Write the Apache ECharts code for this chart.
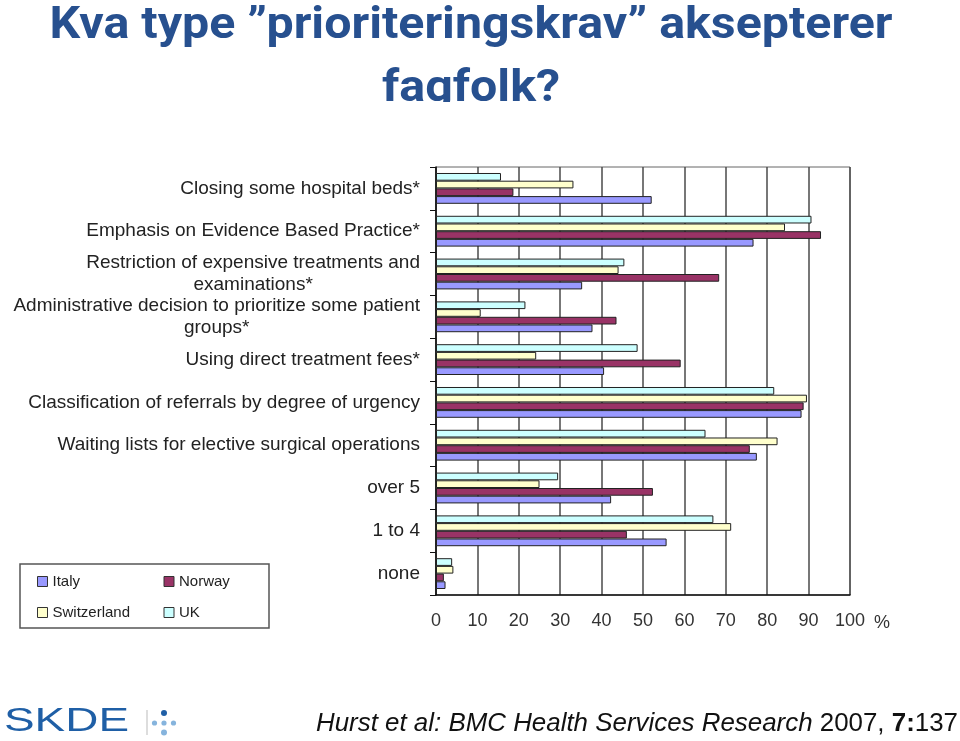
<!DOCTYPE html>
<html>
<head>
<meta charset="utf-8">
<style>html,body{margin:0;padding:0;background:#fff;}#c{width:960px;height:741px;}</style>
<script src="https://cdn.jsdelivr.net/npm/echarts@6/dist/echarts.min.js"></script>
</head>
<body>
<div id="c"></div>
<script>
// Categories, bottom to top
const categories = [
  'none',
  '1 to 4',
  'over 5',
  'Waiting lists for elective surgical operations',
  'Classification of referrals by degree of urgency',
  'Using direct treatment fees*',
  'Administrative decision to prioritize some patient\ngroups*',
  'Restriction of expensive treatments and\nexaminations*',
  'Emphasis on Evidence Based Practice*',
  'Closing some hospital beds*'
];
const seriesNames = ['Italy', 'Norway', 'Switzerland', 'UK'];
const italy       = [2.3, 55.7, 42.3, 77.5, 88.3, 40.6, 37.8, 35.3, 76.7, 52.1];
const norway      = [1.9, 46.1, 52.4, 75.8, 88.8, 59.1, 43.6, 68.4, 93.0, 18.7];
const switzerland = [4.2, 71.3, 25.0, 82.5, 89.6, 24.2, 10.8, 44.1, 84.3, 33.2];
const uk          = [3.9, 67.0, 29.5, 65.1, 81.7, 48.7, 21.6, 45.5, 90.7, 15.7];
const xTicks = [0, 10, 20, 30, 40, 50, 60, 70, 80, 90, 100];

const titleText = 'Kva type \u201Dprioriteringskrav\u201D aksepterer\nfagfolk?';
const citeParts = ['Hurst et al: BMC Health Services Research', ' 2007, ', '7:', '137'];

const colors = ['#9999FF', '#993366', '#FFFFCC', '#CCFFFF'];
const values = [italy, norway, switzerland, uk];

const ctx = document.createElement('canvas').getContext('2d');
function tw(font, s) { ctx.font = font; return ctx.measureText(s).width; }

const FF = '"Liberation Sans", Arial, sans-serif';
const titleFont = 'bold 44px Roboto, "Liberation Sans", sans-serif';
const titleScale = 843 / tw(titleFont, titleText.split('\n')[0]);
const logoFont = '34px ' + FF;
const logoScale = 125 / tw(logoFont, 'SKDE');
const citeW = tw('italic 26px ' + FF, citeParts[0]) + tw('26px ' + FF, citeParts[1]) +
              tw('bold 26px ' + FF, citeParts[2]) + tw('26px ' + FF, citeParts[3]);
const citeScale = 642 / citeW;

const chart = echarts.init(document.getElementById('c'), null, {renderer: 'canvas'});

// drawing order: UK on top of each group, Italy at the bottom
const drawOrder = [3, 2, 1, 0];

const option = {
  backgroundColor: '#fff',
  animation: false,
  textStyle: {fontFamily: FF},
  grid: {left: 436, right: 110, top: 167, bottom: 146, show: true, borderColor: '#666', borderWidth: 1, backgroundColor: 'transparent'},
  legend: {
    data: seriesNames,
    left: 37, top: 566, width: 262,
    orient: 'horizontal',
    padding: 0, itemGap: 0,
    itemWidth: 10, itemHeight: 10,
    icon: 'rect',
    itemStyle: {borderColor: '#333', borderWidth: 1},
    textStyle: {fontSize: 15, color: '#222', width: 111, lineHeight: 31, fontFamily: FF}
  },
  xAxis: {
    type: 'value', min: 0, max: 100, interval: 10,
    axisLine: {show: true, lineStyle: {color: '#111', width: 1.5}},
    axisTick: {show: false},
    splitLine: {show: true, lineStyle: {color: '#4a4a4a', width: 1.5}},
    axisLabel: {
      margin: 17, fontSize: 18, color: '#333', fontFamily: FF,
      formatter: function (v) { return xTicks.indexOf(v) >= 0 ? String(v) : ''; }
    },
    name: '%', nameLocation: 'end', nameGap: 24,
    nameTextStyle: {fontSize: 18, color: '#333', verticalAlign: 'top', padding: [19, 0, 0, 0], fontFamily: FF}
  },
  yAxis: {
    type: 'category', data: categories,
    axisLine: {show: true, lineStyle: {color: '#111', width: 1.5}},
    axisTick: {show: true, length: 6, lineStyle: {color: '#111', width: 1}},
    splitLine: {show: false},
    axisLabel: {
      margin: 16, color: '#222', fontSize: 19, lineHeight: 22, fontFamily: FF,
      formatter: function (v) { return v.split('\n').map(function (l) { return '{c|' + l + '}'; }).join('\n'); },
      rich: {c: {align: 'center', fontSize: 19, lineHeight: 22, color: '#222', fontFamily: FF}}
    }
  },
  series: drawOrder.map(function (i) {
    return {
      name: seriesNames[i], type: 'bar', data: values[i],
      barGap: '0%', barCategoryGap: '28%',
      itemStyle: {color: colors[i], borderColor: '#222', borderWidth: 1}
    };
  }),
  graphic: [
    {type: 'text', x: 471, y: -5, scaleX: titleScale, z: 10,
     style: {text: titleText, font: titleFont, fill: '#27508F', textAlign: 'center', textVerticalAlign: 'top', lineHeight: 63}},
    {type: 'rect', shape: {x: 0, y: 102, width: 960, height: 60}, z: 11, style: {fill: '#fff'}},
    {type: 'rect', shape: {x: 20, y: 564, width: 249, height: 64}, z: 5, style: {fill: 'none', stroke: '#555', lineWidth: 1.5}},
    {type: 'text', x: 4, y: 722, scaleX: logoScale, z: 10,
     style: {text: 'SKDE', font: logoFont, fill: '#1F5FA6', textAlign: 'left', textVerticalAlign: 'middle'}},
    {type: 'line', shape: {x1: 147, y1: 710, x2: 147, y2: 735}, z: 10, style: {stroke: '#bbb', lineWidth: 1}},
    {type: 'circle', shape: {cx: 164, cy: 713, r: 3}, z: 10, style: {fill: '#1F5FA6'}},
    {type: 'circle', shape: {cx: 154.5, cy: 723, r: 2.6}, z: 10, style: {fill: '#86B4DD'}},
    {type: 'circle', shape: {cx: 164, cy: 723, r: 2.6}, z: 10, style: {fill: '#86B4DD'}},
    {type: 'circle', shape: {cx: 173.5, cy: 723, r: 2.6}, z: 10, style: {fill: '#86B4DD'}},
    {type: 'circle', shape: {cx: 164, cy: 732.5, r: 3}, z: 10, style: {fill: '#86B4DD'}},
    {type: 'text', x: 958, y: 724, scaleX: citeScale, z: 10,
     style: {
       text: '{i|' + citeParts[0] + '}{r|' + citeParts[1] + '}{b|' + citeParts[2] + '}{r|' + citeParts[3] + '}',
       textAlign: 'right', textVerticalAlign: 'middle',
       rich: {
         i: {fontStyle: 'italic', fontSize: 26, fontFamily: FF, fill: '#111', color: '#111'},
         r: {fontSize: 26, fontFamily: FF, fill: '#111', color: '#111'},
         b: {fontWeight: 'bold', fontSize: 26, fontFamily: FF, fill: '#111', color: '#111'}
       }
     }}
  ]
};
chart.setOption(option);
</script>
</body>
</html>
